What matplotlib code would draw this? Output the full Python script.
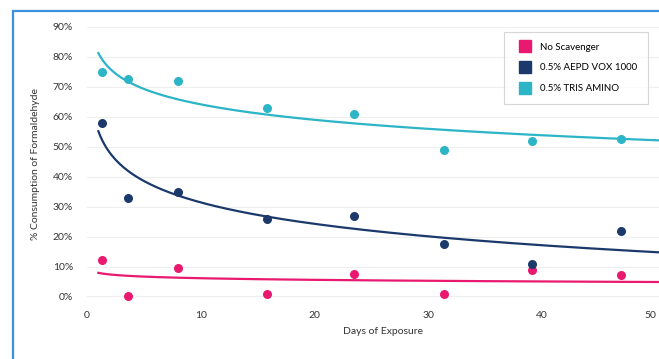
import matplotlib.pyplot as plt
from matplotlib.patches import Rectangle
import numpy as np

# days of exposure and % consumption
days = [1.3, 3.6, 8.0, 15.8, 23.5, 31.4, 39.1, 46.9]
no_scavenger = [12.2, 0.3, 9.5, 0.8, 7.5, 0.8, 8.8, 7.2]
aepd_vox = [58.0, 33.0, 35.0, 26.0, 27.0, 17.5, 11.0, 22.0]
tris_amino = [75.0, 72.5, 72.0, 63.0, 61.0, 49.0, 52.0, 52.5]

labels = ["No Scavenger", "0.5% AEPD VOX 1000", "0.5% TRIS AMINO"]
colors = ["#e8196e", "#1b3a6b", "#2bb5c6"]
yticks = [0, 10, 20, 30, 40, 50, 60, 70, 80, 90]
xticks = [0, 10, 20, 30, 40, 50]

plt.rcParams['font.family'] = ['Lato', 'DejaVu Sans']

fig = plt.figure(figsize=(6.59, 3.59), dpi=100)
ax = fig.add_axes([0.132, 0.1407, 0.898, 0.802])

# blue frame around the figure (right and bottom edges fall outside)
fig.patches.append(Rectangle((13 / 659, -0.05), 1.1, 1 - 11 / 359 + 0.05,
                             transform=fig.transFigure, fill=False,
                             edgecolor="#3d8fe0", linewidth=1.6))

x_fit = np.linspace(1.0, 52, 300)
handles = []
for ys, c, lab in zip([no_scavenger, aepd_vox, tris_amino], colors, labels):
    ax.scatter(days, ys, s=30, color=c, zorder=3)
    # logarithmic trend line
    b, a = np.polyfit(np.log(days), ys, 1)
    ax.plot(x_fit, a + b * np.log(x_fit), color=c, linewidth=1.6, zorder=2)
    handles.append(plt.Line2D([], [], marker="s", linestyle="none",
                              markersize=8.5, color=c, label=lab))

ax.set_xlim(0, 52)
ax.set_ylim(-4, 92)
ax.set_yticks(yticks)
ax.set_yticklabels([f"{v}%" for v in yticks])
ax.set_xticks(xticks)
ax.tick_params(length=0, labelsize=7.5, colors="#333333", pad=2)
ax.tick_params(axis="y", pad=10)
ax.get_xticklabels()[-1].set_horizontalalignment("right")
ax.grid(axis="y", color="#eeeeee", linewidth=0.8)
ax.set_axisbelow(True)
for s in ax.spines.values():
    s.set_visible(False)

ax.set_xlabel("Days of Exposure", fontsize=7.5, color="#333333", labelpad=5)
ax.set_ylabel("% Consumption of Formaldehyde", fontsize=7.5, color="#333333", labelpad=9)

leg = ax.legend(handles=handles, loc="upper left", bbox_to_anchor=(0.705, 0.96),
                fontsize=7, frameon=True, fancybox=False, borderpad=1.1,
                labelspacing=1.2, handletextpad=0.6, borderaxespad=0)
leg.get_frame().set_edgecolor("#cccccc")
leg.get_frame().set_linewidth(0.8)

plt.savefig("out.png", dpi=100)
